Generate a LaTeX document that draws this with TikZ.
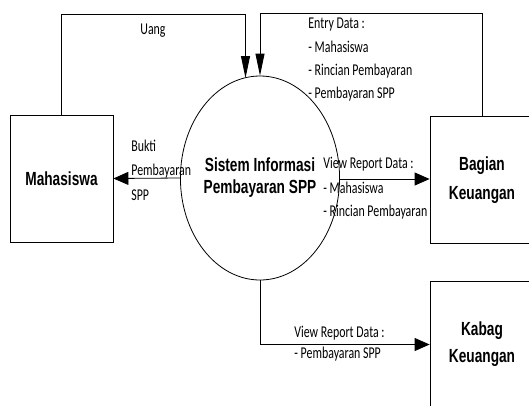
\documentclass[tikz,border=0pt]{standalone}
\usepackage{fontspec}
\usetikzlibrary{shapes.geometric,arrows.meta}
\newfontfamily\lblfnt[FakeStretch=0.72]{Carlito}
\newfontfamily\boldfnt[FakeStretch=0.72]{Liberation Sans Bold}
\begin{document}
\begin{tikzpicture}[x=1pt,y=-1pt,
  line width=0.8pt,
  entity/.style={draw,line width=0.8pt,inner sep=0pt,align=center,
    font={\boldfnt\fontsize{19}{29}\selectfont}},
  proc/.style={draw,ellipse,line width=0.8pt,inner sep=0pt,align=center,
    minimum width=121pt,minimum height=204pt,
    font={\boldfnt\fontsize{19}{22}\selectfont}},
  lbl/.style={anchor=base west,inner sep=0pt,font={\lblfnt\fontsize{16.5}{18}\selectfont}},
  varr/.style={-{Triangle[length=22pt,width=9pt]}},
  harr/.style={-{Triangle[length=15pt,width=13pt]}}]
\useasboundingbox (0,0) rectangle (529,405);
\clip (0,0) rectangle (529,405);

\node[entity,minimum width=103pt,minimum height=127pt] (mah) at (61.5,178.5) {Mahasiswa};
\node[proc] (sis) at (260,178) {Sistem Informasi\\Pembayaran SPP};
\node[entity,minimum width=104pt,minimum height=127pt] (bag) at (482,180) {Bagian\\Keuangan};
\node[entity,minimum width=104pt,minimum height=127pt,
  font={\boldfnt\fontsize{19}{27}\selectfont}] (kab) at (482,344.5) {Kabag\\Keuangan};

\coordinate (uangTop) at (245.5,14);
\coordinate (uangEnd) at (245.5,78);
\coordinate (entTop) at (260,13);

% Uang
\draw[varr] (mah.north) |- (uangTop) -- (uangEnd);
% Entry Data
\draw[varr] (bag.north) |- (entTop) -- (sis.north);
% Bukti
\draw[harr] (sis.west) -- (mah.east);
% View report to Bagian
\draw[harr] (sis.east |- 0,179) -- (bag.west |- 0,179);
% View report to Kabag
\draw[harr] (sis.south) |- (kab.west);

% labels
\node[lbl,anchor=base] (lUang) at (153,34) {Uang};
\node[lbl] (lE1) at (308,28) {Entry Data :};
\node[lbl] (lE2) at (308,52) {- Mahasiswa};
\node[lbl] (lE3) at (308,75.5) {- Rincian Pembayaran};
\node[lbl] (lE4) at (308,98) {- Pembayaran SPP};

\node[lbl] (lB1) at (131,151) {Bukti};
\node[lbl] (lB2) at (131,175) {Pembayaran};
\node[lbl] (lB3) at (131,200) {SPP};

\node[lbl] (lV1) at (323,168) {View Report Data :};
\node[lbl] (lV2) at (323,193) {- Mahasiswa};
\node[lbl] (lV3) at (323,216) {- Rincian Pembayaran};

\node[lbl] (lK1) at (294,337) {View Report Data :};
\node[lbl] (lK2) at (294,358) {- Pembayaran SPP};
\end{tikzpicture}
\end{document}
